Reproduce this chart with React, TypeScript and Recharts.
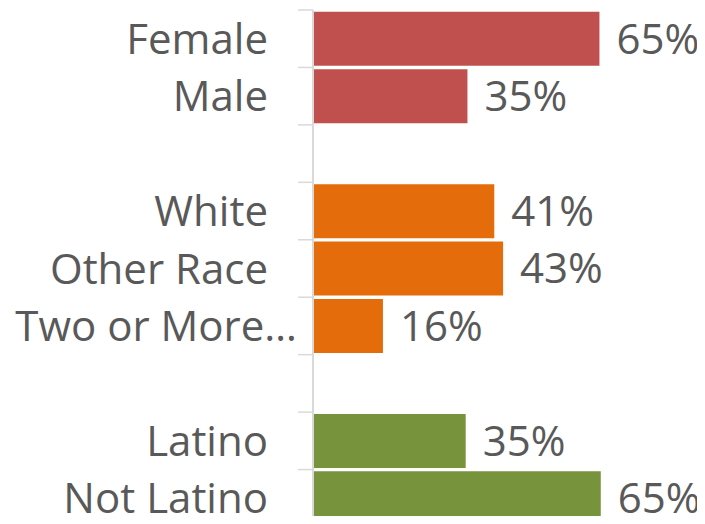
import { Bar, BarChart, Cell, LabelList, XAxis, YAxis } from "recharts";

// one row per slot, blank rows separate the three groups
const categories = ["Female", "Male", "", "White", "Other Race", "Two or More…", "", "Latino", "Not Latino"];
const shares = [0.651, 0.351, null, 0.412, 0.432, 0.159, null, 0.347, 0.654];
const groups = ["sex", "sex", "", "race", "race", "race", "", "ethnicity", "ethnicity"];

const groupColors: Record<string, string> = {
  sex: "#C0504D",
  race: "#E46C0A",
  ethnicity: "#77933C",
};

const data = categories.map((name, i) => ({ id: i, name, value: shares[i], group: groups[i] }));

const W = 697;
const H = 519;
const margin = { top: 2, right: 40, bottom: 0, left: 0 };
const slot = (H - margin.top - margin.bottom) / categories.length;
const font = "'Open Sans', sans-serif";
const textColor = "#595959";
const gridGray = "#D9D9D9";

function CategoryTick({ x, y, payload, index }: any) {
  const label = categories[payload.value] ?? "";
  const truncated = label.endsWith("…");
  const last = index === categories.length - 1;
  return (
    <g>
      <line x1={x - 15} x2={x} y1={y - slot / 2} y2={y - slot / 2} stroke={gridGray} strokeWidth={1.5} />
      {last && <line x1={x - 15} x2={x} y1={y + slot / 2} y2={y + slot / 2} stroke={gridGray} strokeWidth={1.5} />}
      {label && (
        <text x={truncated ? x - 16 : x - 45} y={y} dy="0.36em" textAnchor="end" fontFamily={font} fontSize={42} fill={textColor}>
          {label}
        </text>
      )}
    </g>
  );
}

export default function App() {
  return (
    <div style={{ width: W, height: 516, overflow: "hidden", marginBottom: -8 }}>
      <BarChart width={W} height={H} data={data} layout="vertical" margin={margin} barCategoryGap={1.8}>
        <XAxis type="number" domain={[0, 0.8]} hide />
        <YAxis
          type="category"
          dataKey="id"
          width={305}
          interval={0}
          tickSize={0}
          tickMargin={0}
          tickLine={false}
          axisLine={{ stroke: gridGray, strokeWidth: 2 }}
          tick={<CategoryTick />}
        />
        <Bar dataKey="value" isAnimationActive={false}>
          {data.map((d) => (
            <Cell key={d.id} fill={groupColors[d.group] ?? "transparent"} />
          ))}
          <LabelList
            dataKey="value"
            position="right"
            offset={17}
            formatter={(v: any) => (v == null ? "" : `${Math.round(v * 100)}%`)}
            style={{ fontFamily: font, fontSize: 42, fill: textColor }}
          />
        </Bar>
      </BarChart>
    </div>
  );
}
